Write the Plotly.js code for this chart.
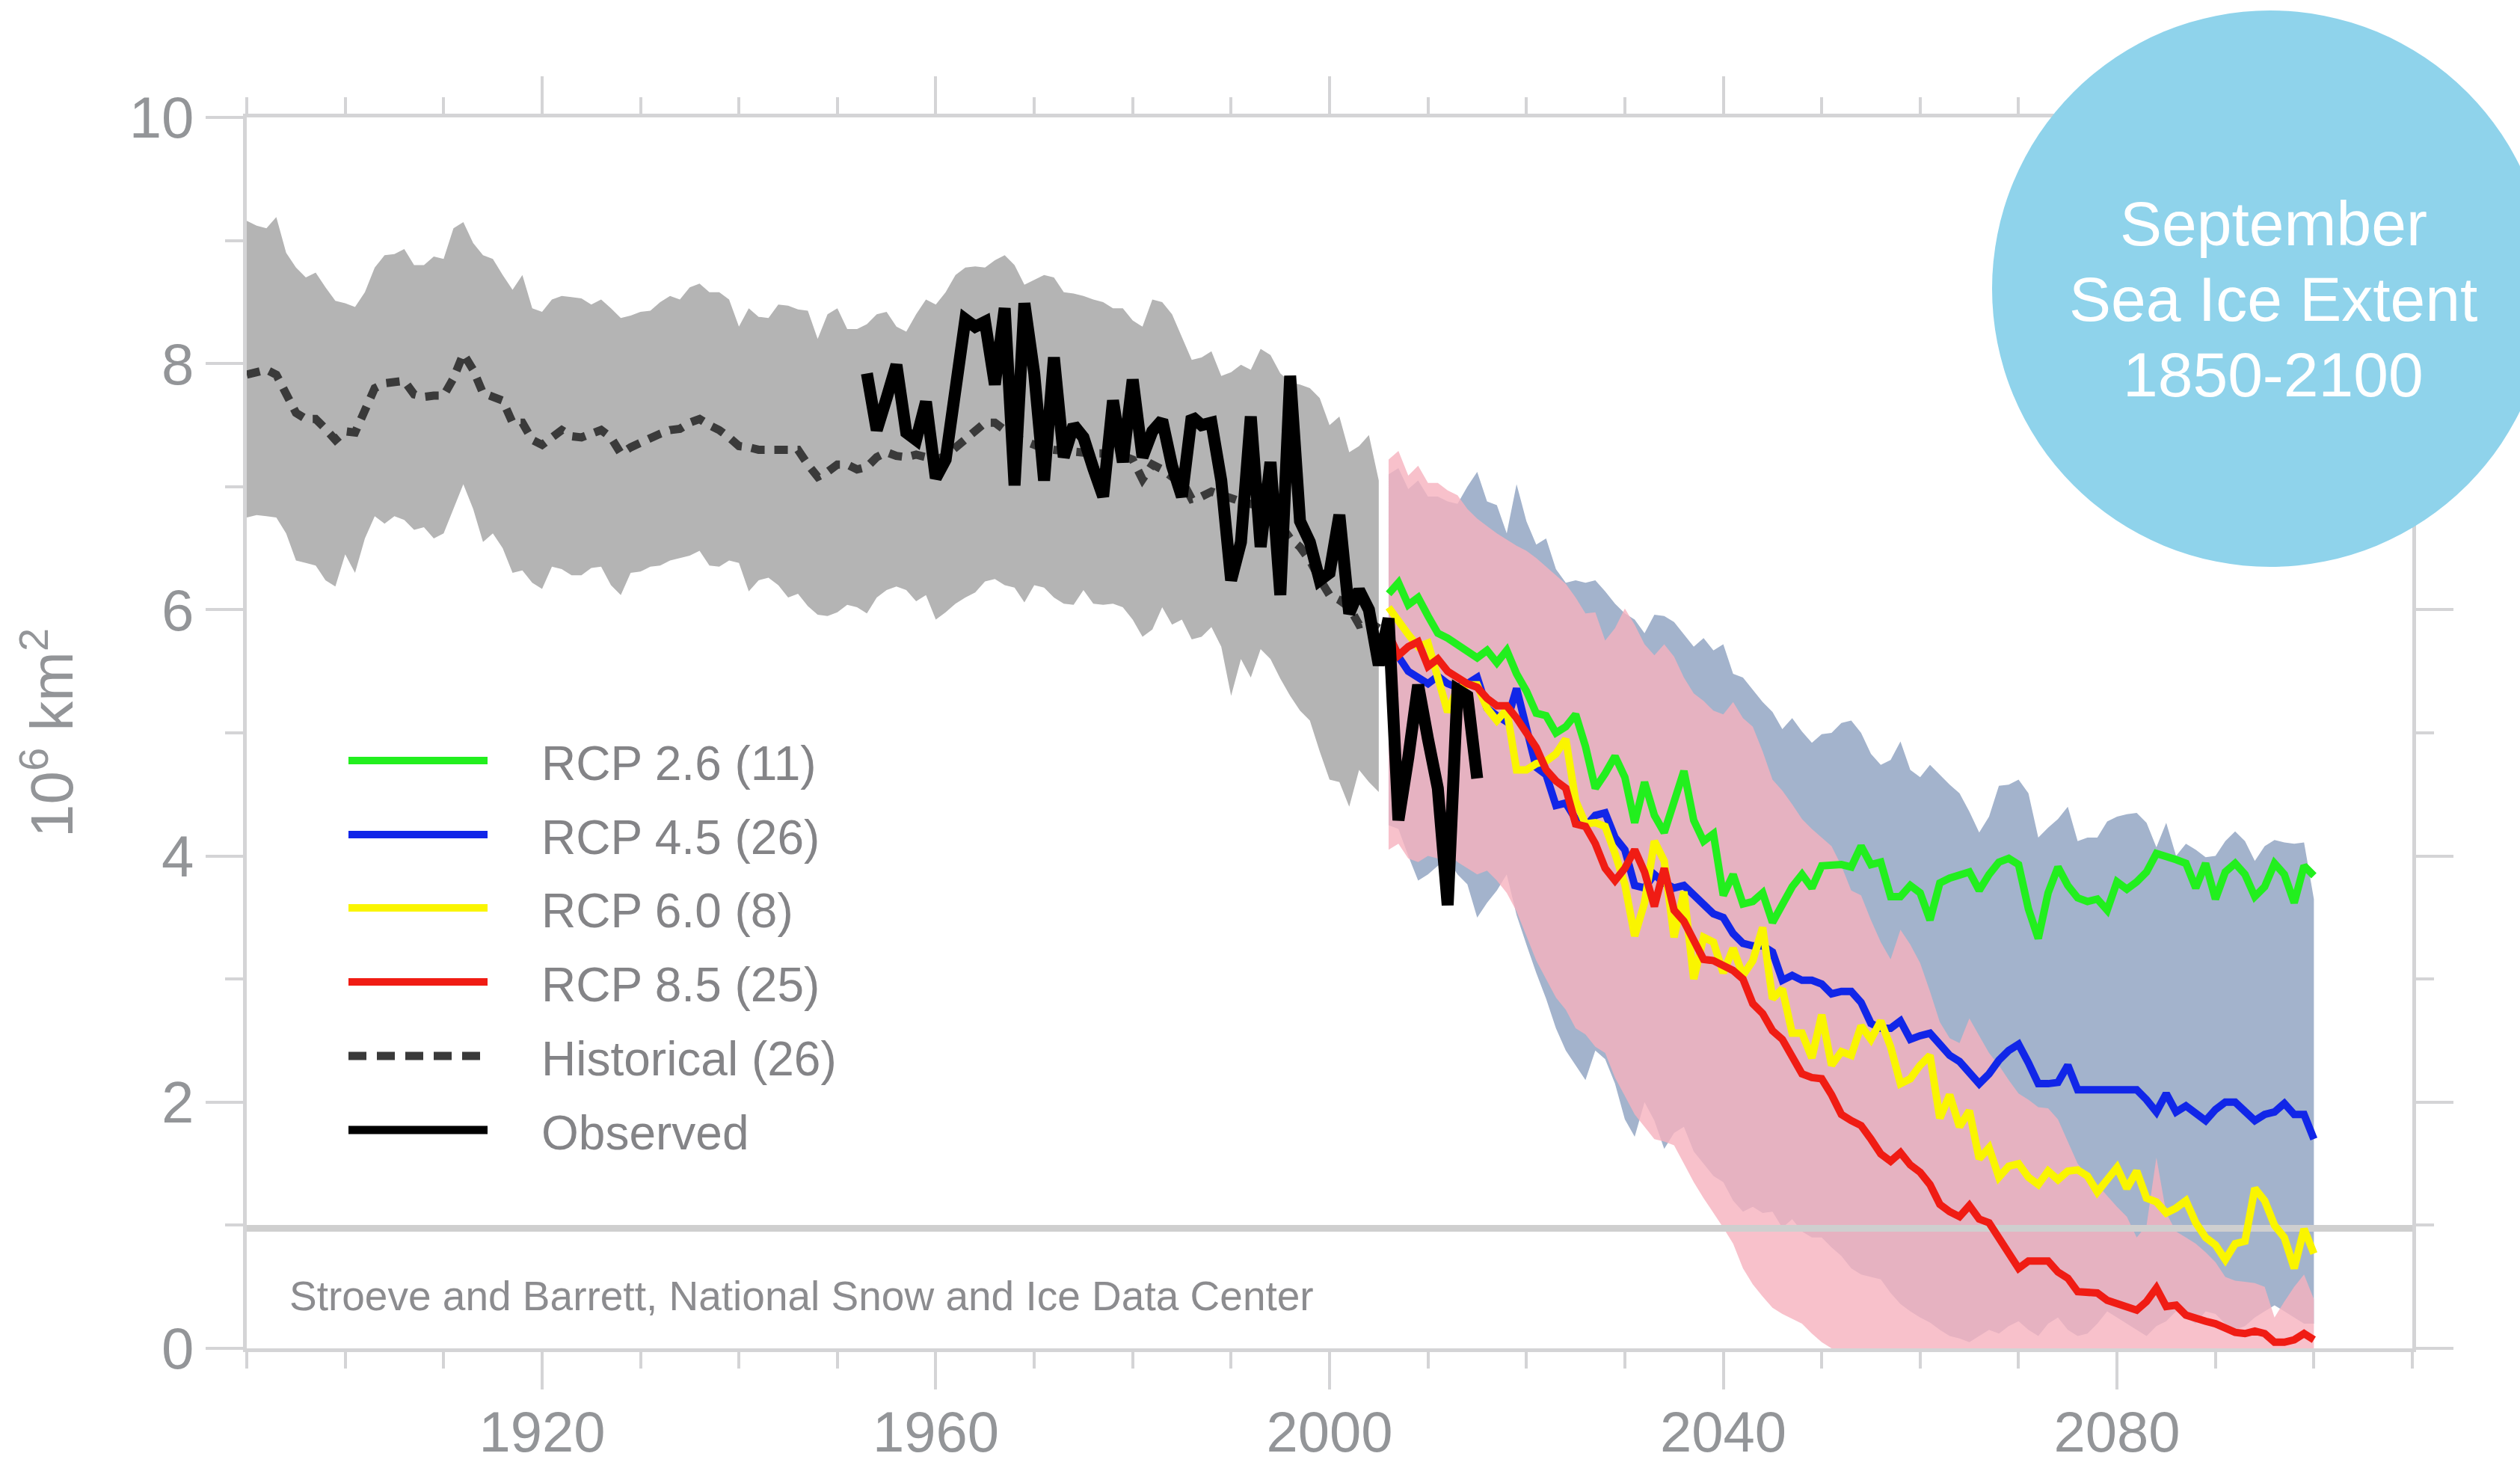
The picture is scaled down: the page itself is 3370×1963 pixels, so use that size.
<!DOCTYPE html>
<html>
<head>
<meta charset="utf-8">
<script src="https://cdn.plot.ly/plotly-3.0.1.min.js"></script>
<style>html,body{margin:0;padding:0;background:#ffffff;}</style>
</head>
<body>
<div id="chart" style="width:3370px;height:1963px;"></div>
<script>
// ---------------- DATA (10^6 km^2, September sea ice extent) ----------------
// Historical CMIP5 ensemble, 1890-2005
const histStartYear = 1890;
const histUpper = [
  9.16, 9.12, 9.10, 9.19, 8.90, 8.78, 8.70, 8.74, 8.62, 8.51,
  8.49, 8.46, 8.58, 8.78, 8.88, 8.89, 8.93, 8.80, 8.80, 8.87,
  8.85, 9.10, 9.15, 8.98, 8.88, 8.85, 8.72, 8.60, 8.72, 8.45,
  8.42, 8.52, 8.55, 8.54, 8.53, 8.48, 8.52, 8.45, 8.37, 8.39,
  8.42, 8.43, 8.50, 8.55, 8.52, 8.62, 8.65, 8.58, 8.58, 8.52,
  8.30, 8.45, 8.38, 8.37, 8.48, 8.47, 8.44, 8.43, 8.20, 8.40,
  8.45, 8.28, 8.28, 8.32, 8.40, 8.42, 8.30, 8.26, 8.40, 8.52,
  8.48, 8.58, 8.72, 8.78, 8.79, 8.78, 8.84, 8.88, 8.80, 8.64,
  8.68, 8.72, 8.70, 8.58, 8.57, 8.55, 8.52, 8.50, 8.45, 8.45,
  8.35, 8.30, 8.52, 8.50, 8.40, 8.22, 8.03, 8.05, 8.10, 7.90,
  7.93, 7.99, 7.95, 8.12, 8.07, 7.92, 7.85, 7.83, 7.80, 7.72,
  7.50, 7.57, 7.28, 7.33, 7.42, 7.05
];
const histLower = [
  6.75, 6.77, 6.76, 6.75, 6.62, 6.40, 6.38, 6.36, 6.24, 6.19,
  6.45, 6.30, 6.58, 6.76, 6.70, 6.76, 6.73, 6.65, 6.67, 6.58,
  6.62, 6.82, 7.02, 6.82, 6.55, 6.62, 6.50, 6.30, 6.32, 6.22,
  6.17, 6.35, 6.33, 6.28, 6.28, 6.34, 6.35, 6.20, 6.12, 6.30,
  6.31, 6.35, 6.36, 6.40, 6.42, 6.44, 6.48, 6.36, 6.35, 6.40,
  6.38, 6.15, 6.24, 6.26, 6.20, 6.10, 6.13, 6.03, 5.96, 5.95,
  5.98, 6.04, 6.02, 5.97, 6.10, 6.16, 6.19, 6.16, 6.07, 6.12,
  5.92, 5.98, 6.05, 6.10, 6.14, 6.23, 6.25, 6.20, 6.18, 6.06,
  6.20, 6.18, 6.10, 6.05, 6.04, 6.16, 6.05, 6.04, 6.05, 6.02,
  5.92, 5.78, 5.84, 6.02, 5.88, 5.92, 5.76, 5.78, 5.86, 5.70,
  5.30, 5.60, 5.45, 5.68, 5.60, 5.44, 5.30, 5.18, 5.10, 4.85,
  4.62, 4.60, 4.40, 4.70, 4.60, 4.52
];
const histMean = [
  7.91, 7.93, 7.95, 7.91, 7.75, 7.60, 7.55, 7.55, 7.47, 7.38,
  7.45, 7.44, 7.62, 7.80, 7.84, 7.85, 7.86, 7.75, 7.73, 7.74,
  7.74, 7.88, 8.08, 7.95, 7.76, 7.73, 7.70, 7.52, 7.52, 7.38,
  7.34, 7.40, 7.46, 7.41, 7.40, 7.43, 7.46, 7.40, 7.27, 7.32,
  7.36, 7.40, 7.43, 7.46, 7.47, 7.52, 7.55, 7.50, 7.46, 7.40,
  7.33, 7.32, 7.30, 7.30, 7.30, 7.30, 7.30, 7.18, 7.08, 7.12,
  7.18, 7.18, 7.14, 7.16, 7.24, 7.28, 7.25, 7.24, 7.26, 7.24,
  7.22, 7.25, 7.32, 7.40, 7.47, 7.52, 7.52, 7.45, 7.40, 7.37,
  7.34, 7.31, 7.30, 7.29, 7.29, 7.28, 7.27, 7.27, 7.26, 7.25,
  7.22, 7.06, 7.18, 7.14, 7.08, 7.05, 6.90, 6.92, 6.96, 6.93,
  6.91, 6.88, 6.86, 6.84, 6.80, 6.70, 6.58, 6.51, 6.40, 6.25,
  6.12, 6.08, 6.02, 5.88, 5.90, 5.85
];

// Observed, 1953-2015
const obsStartYear = 1953;
const observed = [
  7.92, 7.46, 7.72, 7.99, 7.44, 7.38, 7.69, 7.07, 7.22, 7.85,
  8.36, 8.30, 8.34, 7.83, 8.45, 7.01, 8.49, 7.92, 7.05, 8.05,
  7.24, 7.50, 7.40, 7.15, 6.92, 7.70, 7.20, 7.87, 7.24, 7.45,
  7.54, 7.17, 6.92, 7.57, 7.50, 7.52, 7.05, 6.24, 6.55, 7.57,
  6.51, 7.20, 6.12, 7.90, 6.72, 6.55, 6.24, 6.30, 6.77, 5.97,
  6.16, 6.00, 5.55, 5.93, 4.29, 4.80, 5.39, 4.95, 4.55, 3.60,
  5.35, 5.30, 4.63
];

// RCP projections, 2006-2100 (multi-model means)
const rcpStartYear = 2006;
const rcp26 = [
  6.13, 6.22, 6.04, 6.10, 5.95, 5.81, 5.77, 5.72, 5.66, 5.61,
  5.67, 5.57, 5.67, 5.48, 5.34, 5.16, 5.14, 5.00, 5.05, 5.15,
  4.89, 4.55, 4.67, 4.81, 4.64, 4.27, 4.60, 4.33, 4.19, 4.45,
  4.69, 4.29, 4.12, 4.18, 3.68, 3.85, 3.61, 3.63, 3.70, 3.46,
  3.61, 3.75, 3.85, 3.74, 3.92, 3.93, 3.93, 3.91, 4.08, 3.93,
  3.95, 3.67, 3.67, 3.76, 3.70, 3.48, 3.78, 3.82, 3.84, 3.87,
  3.72, 3.85, 3.95, 3.98, 3.93, 3.57, 3.33, 3.70, 3.91, 3.76,
  3.66, 3.63, 3.65, 3.56, 3.79, 3.73, 3.79, 3.87, 4.02, 4.00,
  3.97, 3.94, 3.74, 3.94, 3.65, 3.87, 3.94, 3.85, 3.67, 3.75,
  3.94, 3.85, 3.62, 3.92, 3.84
];
const rcp45 = [
  5.80, 5.62, 5.50, 5.45, 5.40, 5.46, 5.40, 5.37, 5.40, 5.45,
  5.20, 5.14, 5.09, 5.36, 5.05, 4.72, 4.66, 4.41, 4.43, 4.30,
  4.24, 4.33, 4.35, 4.15, 4.05, 3.76, 3.74, 3.85, 3.78, 3.74,
  3.76, 3.68, 3.60, 3.53, 3.50, 3.37, 3.29, 3.27, 3.27, 3.22,
  2.99, 3.03, 2.99, 2.99, 2.96, 2.88, 2.90, 2.90, 2.81, 2.64,
  2.60, 2.60, 2.66, 2.51, 2.54, 2.56, 2.47, 2.38, 2.33, 2.25,
  2.15, 2.23, 2.34, 2.42, 2.47, 2.32, 2.15, 2.15, 2.16, 2.30,
  2.10, 2.10, 2.10, 2.10, 2.10, 2.11, 2.10, 2.02, 1.92, 2.07,
  1.92, 1.97, 1.90, 1.85, 1.94, 2.00, 2.00, 1.92, 1.85, 1.90,
  1.92, 1.99, 1.90, 1.90, 1.70
];
const rcp60 = [
  6.02, 5.90, 5.80, 5.70, 5.73, 5.45, 5.17, 5.36, 5.39, 5.39,
  5.20, 5.10, 5.19, 4.70, 4.70, 4.75, 4.77, 4.83, 4.95, 4.45,
  4.26, 4.27, 4.24, 4.02, 3.77, 3.35, 3.62, 4.12, 3.96, 3.34,
  3.71, 3.00, 3.34, 3.30, 3.05, 3.25, 3.03, 3.15, 3.42, 2.84,
  2.92, 2.56, 2.56, 2.36, 2.71, 2.30, 2.41, 2.38, 2.62, 2.51,
  2.66, 2.45, 2.15, 2.19, 2.30, 2.38, 1.87, 2.06, 1.80, 1.93,
  1.54, 1.63, 1.39, 1.48, 1.50, 1.39, 1.33, 1.44, 1.37, 1.44,
  1.45, 1.40, 1.27, 1.37, 1.47, 1.30, 1.44, 1.22, 1.19, 1.10,
  1.14, 1.20, 1.02, 0.90, 0.84, 0.72, 0.85, 0.87, 1.30, 1.20,
  1.00, 0.90, 0.65, 0.97, 0.77
];
const rcp85 = [
  5.80, 5.63, 5.70, 5.74, 5.54, 5.60, 5.50, 5.45, 5.40, 5.37,
  5.28, 5.22, 5.22, 5.12, 5.00, 4.88, 4.70, 4.61, 4.55, 4.26,
  4.24, 4.10, 3.90, 3.80, 3.90, 4.05, 3.87, 3.59, 3.90, 3.56,
  3.47, 3.30, 3.16, 3.15, 3.11, 3.07, 3.00, 2.80, 2.72, 2.58,
  2.51, 2.38, 2.23, 2.20, 2.19, 2.06, 1.90, 1.85, 1.81, 1.70,
  1.58, 1.52, 1.59, 1.49, 1.43, 1.33, 1.17, 1.11, 1.07, 1.16,
  1.05, 1.02, 0.90, 0.76, 0.65, 0.71, 0.71, 0.71, 0.62, 0.57,
  0.46, 0.45, 0.45, 0.39, 0.36, 0.34, 0.31, 0.38, 0.49, 0.34,
  0.35, 0.27, 0.24, 0.22, 0.20, 0.17, 0.13, 0.12, 0.14, 0.12,
  0.05, 0.05, 0.07, 0.12, 0.07
];
// RCP 4.5 ensemble range (blue-grey band)
const rcp45Max = [
  7.10, 7.15, 6.98, 7.05, 6.92, 6.92, 6.88, 6.86, 7.00, 7.12,
  6.88, 6.85, 6.62, 7.02, 6.72, 6.53, 6.58, 6.33, 6.22, 6.24,
  6.22, 6.24, 6.15, 6.05, 5.97, 5.92, 5.81, 5.96, 5.95, 5.90,
  5.80, 5.70, 5.77, 5.67, 5.72, 5.48, 5.45, 5.35, 5.25, 5.17,
  5.03, 5.12, 5.01, 4.92, 4.99, 5.00, 5.08, 5.10, 5.00, 4.83,
  4.74, 4.78, 4.93, 4.70, 4.64, 4.74, 4.66, 4.58, 4.51, 4.36,
  4.19, 4.32, 4.57, 4.58, 4.62, 4.51, 4.15, 4.23, 4.30, 4.40,
  4.12, 4.15, 4.15, 4.28, 4.32, 4.34, 4.35, 4.27, 4.07, 4.27,
  4.00, 4.10, 4.05, 3.99, 4.00, 4.12, 4.20, 4.12, 3.96, 4.08,
  4.13, 4.11, 4.10, 4.11, 3.65
];
const rcp45Min = [
  4.25, 4.22, 4.00, 3.80, 3.85, 3.92, 3.97, 3.85, 3.77, 3.50,
  3.62, 3.72, 3.85, 3.52, 3.28, 3.05, 2.84, 2.60, 2.42, 2.30,
  2.18, 2.42, 2.35, 2.15, 1.86, 1.72, 2.00, 1.85, 1.62, 1.75,
  1.80, 1.60, 1.50, 1.40, 1.35, 1.20, 1.11, 1.15, 1.10, 1.11,
  0.98, 1.05, 0.95, 0.90, 0.90, 0.82, 0.75, 0.65, 0.60, 0.58,
  0.56, 0.45, 0.36, 0.30, 0.25, 0.21, 0.15, 0.10, 0.08, 0.05,
  0.10, 0.15, 0.12, 0.18, 0.22, 0.15, 0.10, 0.20, 0.25, 0.15,
  0.10, 0.12, 0.20, 0.30, 0.25, 0.20, 0.15, 0.10, 0.18, 0.22,
  0.30, 0.25, 0.20, 0.30, 0.28, 0.20, 0.15, 0.18, 0.25, 0.30,
  0.35, 0.30, 0.25, 0.20, 0.20
];
// RCP 8.5 ensemble range (pink band)
const rcp85Max = [
  7.22, 7.29, 7.09, 7.17, 7.03, 7.03, 6.97, 6.93, 6.82, 6.74,
  6.68, 6.62, 6.57, 6.52, 6.48, 6.42, 6.35, 6.28, 6.21, 6.10,
  5.97, 5.98, 5.75, 5.85, 6.01, 5.88, 5.72, 5.63, 5.72, 5.62,
  5.45, 5.32, 5.26, 5.18, 5.15, 5.25, 5.12, 5.05, 4.85, 4.62,
  4.53, 4.42, 4.30, 4.22, 4.15, 4.08, 3.92, 3.72, 3.68, 3.48,
  3.30, 3.16, 3.40, 3.28, 3.13, 2.90, 2.65, 2.52, 2.48, 2.68,
  2.54, 2.40, 2.30, 2.18, 2.07, 2.02, 1.96, 1.95, 1.86, 1.68,
  1.50, 1.40, 1.33, 1.24, 1.15, 1.07, 0.90, 1.00, 1.55, 1.10,
  0.95, 0.90, 0.85, 0.78, 0.70, 0.58, 0.55, 0.54, 0.53, 0.50,
  0.25, 0.38, 0.50, 0.60, 0.40
];
const rcp85Min = [
  4.05, 4.10, 3.98, 3.95, 4.00, 3.98, 4.02, 3.95, 3.90, 3.85,
  3.88, 3.80, 3.70, 3.55, 3.35, 3.15, 3.00, 2.85, 2.75, 2.60,
  2.55, 2.45, 2.40, 2.20, 2.05, 1.90, 1.80, 1.70, 1.68, 1.65,
  1.50, 1.35, 1.22, 1.10, 0.98, 0.85, 0.65, 0.52, 0.42, 0.33,
  0.28, 0.24, 0.20, 0.12, 0.05, 0.00, 0.00, 0.00, 0.00, 0.00,
  0.00, 0.00, 0.00, 0.00, 0.00, 0.00, 0.00, 0.00, 0.00, 0.00,
  0.00, 0.00, 0.00, 0.00, 0.00, 0.00, 0.00, 0.00, 0.00, 0.00,
  0.00, 0.00, 0.00, 0.00, 0.00, 0.00, 0.00, 0.00, 0.00, 0.00,
  0.00, 0.00, 0.00, 0.00, 0.00, 0.00, 0.00, 0.00, 0.00, 0.00,
  0.00, 0.00, 0.00, 0.00, 0.00
];

// Axis definitions
const xRange = [1890, 2110];
const yRange = [0, 10];
const xTickVals = [1920, 1960, 2000, 2040, 2080];
const xTickText = ['1920', '1960', '2000', '2040', '2080'];
const yTickVals = [0, 2, 4, 6, 8, 10];
const yTickText = ['0', '2', '4', '6', '8', '10'];
const creditLineValue = 0.975;

// Legend
const legendNames = ['RCP 2.6 (11)', 'RCP 4.5 (26)', 'RCP 6.0 (8)', 'RCP 8.5 (25)', 'Historical (26)', 'Observed'];
const titleLines = ['September', 'Sea Ice Extent', '1850-2100'];
const creditText = 'Stroeve and Barrett, National Snow and Ice Data Center';

// ---------------- BUILD ----------------
function yearsFrom(start, n) { const a = []; for (let i = 0; i < n; i++) a.push(start + i); return a; }
const histYears = yearsFrom(histStartYear, histMean.length);
const obsYears = yearsFrom(obsStartYear, observed.length);
const rcpYears = yearsFrom(rcpStartYear, rcp26.length);

const FONT = 'Liberation Sans, Arial, Helvetica, sans-serif';
const GREY_TXT = '#939598';
const AXIS_C = '#d4d4d6';

const colors = {
  rcp26: '#22ef1e', rcp45: '#1126e8', rcp60: '#faf500', rcp85: '#f01c14',
  hist: '#3a3a3a', obs: '#000000',
  histBand: '#b4b4b4', band45: '#a3b3cc', band85: 'rgba(246,178,190,0.80)'
};

const none = {width: 0, color: 'rgba(0,0,0,0)'};
const traces = [
  {x: histYears, y: histLower, mode: 'lines', line: none, hoverinfo: 'skip', showlegend: false, name: 'Historical min'},
  {x: histYears, y: histUpper, mode: 'lines', line: none, fill: 'tonexty', fillcolor: colors.histBand, hoverinfo: 'skip', showlegend: false, name: 'Historical max'},
  {x: histYears, y: histMean, mode: 'lines', line: {color: colors.hist, width: 11, dash: '18px,13px'}, name: legendNames[4], showlegend: false},
  {x: rcpYears, y: rcp45Min, mode: 'lines', line: none, hoverinfo: 'skip', showlegend: false, name: 'RCP 4.5 min'},
  {x: rcpYears, y: rcp45Max, mode: 'lines', line: none, fill: 'tonexty', fillcolor: colors.band45, hoverinfo: 'skip', showlegend: false, name: 'RCP 4.5 max'},
  {x: rcpYears, y: rcp85Min, mode: 'lines', line: none, hoverinfo: 'skip', showlegend: false, name: 'RCP 8.5 min'},
  {x: rcpYears, y: rcp85Max, mode: 'lines', line: none, fill: 'tonexty', fillcolor: colors.band85, hoverinfo: 'skip', showlegend: false, name: 'RCP 8.5 max'},
  {x: xRange, y: [creditLineValue, creditLineValue], mode: 'lines', line: {color: '#cfcfcf', width: 9}, hoverinfo: 'skip', showlegend: false, name: 'separator'},
  {x: rcpYears, y: rcp26, mode: 'lines', line: {color: colors.rcp26, width: 10}, name: legendNames[0], showlegend: false},
  {x: rcpYears, y: rcp45, mode: 'lines', line: {color: colors.rcp45, width: 10}, name: legendNames[1], showlegend: false},
  {x: rcpYears, y: rcp60, mode: 'lines', line: {color: colors.rcp60, width: 10}, name: legendNames[2], showlegend: false},
  {x: rcpYears, y: rcp85, mode: 'lines', line: {color: colors.rcp85, width: 10}, name: legendNames[3], showlegend: false},
  {x: obsYears, y: observed, mode: 'lines', line: {color: colors.obs, width: 16}, name: legendNames[5], showlegend: false}
];

// plot area in px: left 330, right 3226, top 157, bottom 1803
const W = 3370, H = 1963, ML = 330, MR = 144, MT = 157, MB = 160;
const PW = W - ML - MR, PH = H - MT - MB;
const px2paperX = px => (px - ML) / PW;
const py2paperY = py => (H - MB - py) / PH;

const shapes = [];
const annotations = [];

// Manual legend (long line samples as in the original)
const legendColors = [colors.rcp26, colors.rcp45, colors.rcp60, colors.rcp85, colors.hist, colors.obs];
const legendDash = ['solid', 'solid', 'solid', 'solid', '24px,14px', 'solid'];
const legendWidth = [10, 10, 10, 10, 11, 11];
const legendRowY = [1017, 1116, 1214, 1313, 1412, 1511];
legendNames.forEach((nm, i) => {
  const y = py2paperY(legendRowY[i]);
  shapes.push({type: 'line', xref: 'paper', yref: 'paper', x0: px2paperX(466), x1: px2paperX(652), y0: y, y1: y,
    line: {color: legendColors[i], width: legendWidth[i], dash: legendDash[i]}, layer: 'above'});
  annotations.push({xref: 'paper', yref: 'paper', x: px2paperX(722), y: py2paperY(legendRowY[i] + 4), xanchor: 'left', yanchor: 'middle',
    text: nm, showarrow: false, font: {family: FONT, size: 64, color: '#848487'}});
});

// Credit text
annotations.push({xref: 'paper', yref: 'paper', x: px2paperX(385), y: py2paperY(1733), xanchor: 'left', yanchor: 'middle',
  text: creditText, showarrow: false, font: {family: FONT, size: 55, color: '#8c8c8f'}});

// Title bubble
shapes.push({type: 'circle', xref: 'paper', yref: 'paper', x0: px2paperX(2664), x1: px2paperX(3408), y0: py2paperY(758), y1: py2paperY(14),
  fillcolor: '#8fd3eb', line: {width: 0}, layer: 'above'});
const titleRowY = [299, 400, 501];
titleLines.forEach((t, i) => {
  annotations.push({xref: 'paper', yref: 'paper', x: px2paperX(3040), y: py2paperY(titleRowY[i]), xanchor: 'center', yanchor: 'middle',
    text: t, showarrow: false, font: {family: FONT, size: 84, color: '#ffffff'}});
});

const axisCommon = {
  showline: true, linecolor: AXIS_C, linewidth: 5, mirror: 'ticks',
  ticks: 'outside', tickcolor: AXIS_C, tickwidth: 4, ticklen: 50,
  showgrid: false, zeroline: false, fixedrange: true,
  tickfont: {family: FONT, size: 78, color: GREY_TXT}
};

const layout = {
  width: W, height: H,
  margin: {l: ML, r: MR, t: MT, b: MB, pad: 0},
  paper_bgcolor: '#ffffff', plot_bgcolor: '#ffffff',
  showlegend: false,
  font: {family: FONT, color: GREY_TXT},
  xaxis: Object.assign({}, axisCommon, {
    range: xRange, tickmode: 'array', tickvals: xTickVals, ticktext: xTickText,
    tickfont: {family: FONT, size: 76, color: GREY_TXT},
    ticklabelstandoff: -8,
    minor: {tickmode: 'linear', tick0: 1890, dtick: 10, ticks: 'outside', ticklen: 22, tickwidth: 4, tickcolor: AXIS_C, showgrid: false}
  }),
  yaxis: Object.assign({}, axisCommon, {
    range: yRange, tickmode: 'array', tickvals: yTickVals, ticktext: yTickText,
    minor: {tickmode: 'linear', tick0: 0, dtick: 1, ticks: 'outside', ticklen: 24, tickwidth: 4, tickcolor: AXIS_C, showgrid: false},
    title: {text: '10<sup>6</sup> km<sup>2</sup>', font: {family: FONT, size: 80, color: GREY_TXT}, standoff: 50}
  }),
  shapes: shapes,
  annotations: annotations
};

Plotly.newPlot('chart', traces, layout, {staticPlot: true, displayModeBar: false});
</script>
</body>
</html>
